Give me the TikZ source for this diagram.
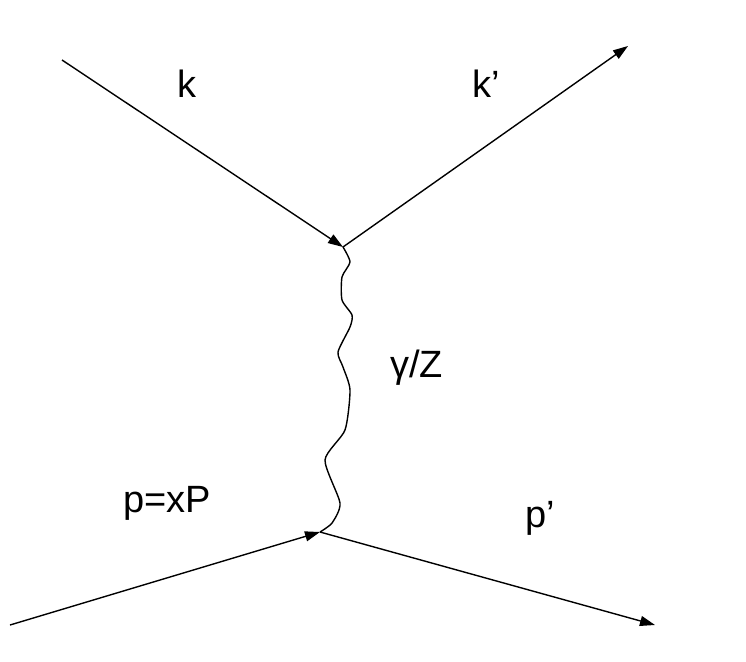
\documentclass[tikz,border=0pt]{standalone}
\usepackage{fontspec}
\setmainfont{Liberation Sans}
\usetikzlibrary{arrows.meta}
\begin{document}
\begin{tikzpicture}[x=1pt,y=-1pt,
  fermion/.style={line width=1.4pt, -{Triangle[length=15pt,width=10pt]}},
  plain/.style={line width=1.4pt},
  boson/.style={line width=1.4pt, line join=round},
  lbl/.style={anchor=base west, inner sep=0pt, font=\fontsize{38}{40}\selectfont}]
\useasboundingbox[fill=white] (0,0) rectangle (746,661);
\coordinate (kin) at (62,60);
\coordinate (vtop) at (343,247);
\coordinate (kout) at (628,46);
\coordinate (pin) at (10,625);
\coordinate (vbot) at (320,532);
\coordinate (pout) at (655,625);
\draw[fermion] (kin) -- (vtop);
\draw[fermion] (vtop) -- (kout);
\draw[fermion] (pin) -- (vbot);
\draw[fermion] (vbot) -- (pout);
\draw[boson] plot[smooth, tension=0.4] coordinates {(343,247) (350,262) (342,277) (342,300) (352,315) (350,327) (338,352) (343,367) (350,390) (345,430) (325,460) (340,503) (332,523) (320,532)};
\node[lbl] (k) at (177,97) {k};
\node[lbl] (kp) at (472,97) {k’};
\node[lbl] (gz) at (390,377) {γ/Z};
\node[lbl] (p) at (123,512) {p=xP};
\node[lbl] (pp) at (525,527) {p’};
\end{tikzpicture}
\end{document}
